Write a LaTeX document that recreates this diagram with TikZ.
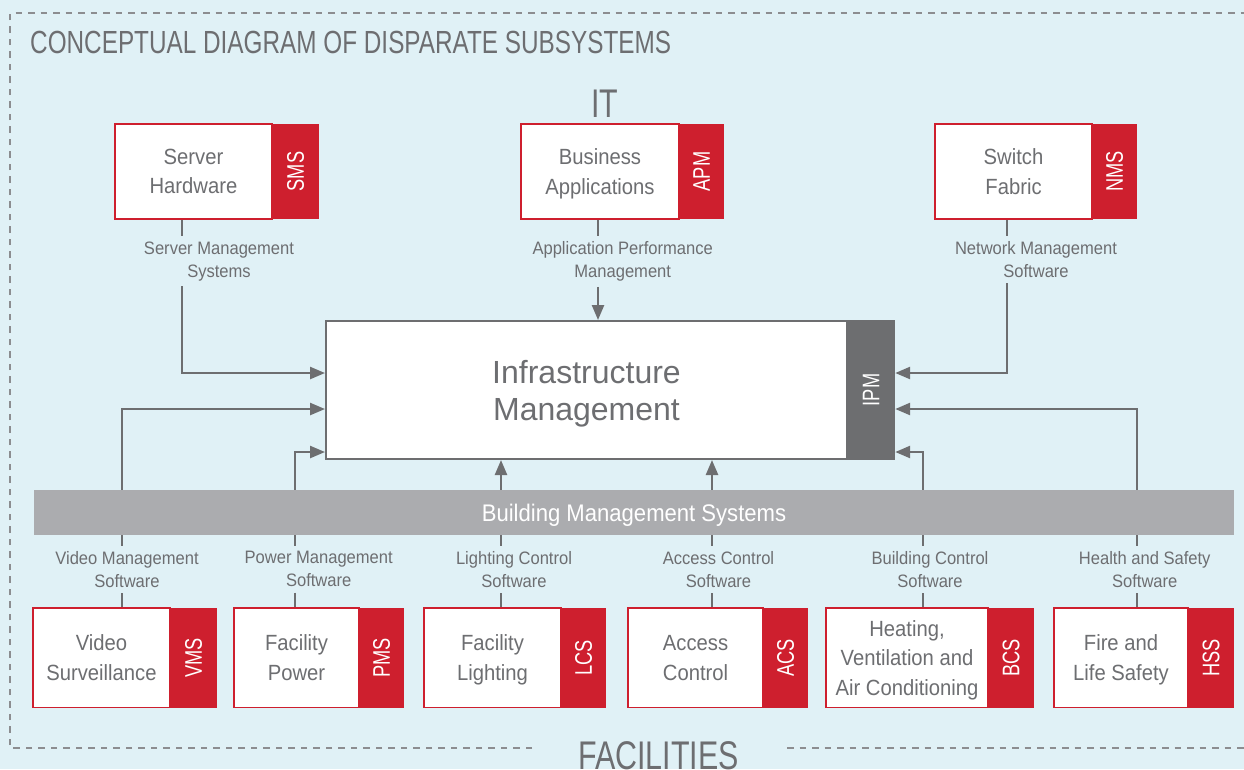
\documentclass[tikz,border=0pt]{standalone}
\usepackage{fontspec}
\usepackage{graphicx}
\setmainfont[FakeStretch=0.92]{Liberation Sans}
\newfontfamily\capfont[FakeStretch=0.76]{Liberation Sans}
\newfontfamily\widefont{Liberation Sans}
\usetikzlibrary{arrows.meta}
\definecolor{bg}{HTML}{E0F1F6}
\definecolor{myred}{HTML}{CE1F2E}
\definecolor{txt}{HTML}{6D6E71}
\definecolor{barc}{HTML}{ABACAF}
\definecolor{ipmc}{HTML}{6D6E70}
\definecolor{dashc}{HTML}{8C8D90}
\begin{document}
\begin{tikzpicture}[x=1pt,y=-1pt,
 wbox/.style={draw=myred, line width=1.8pt, fill=white, inner sep=0pt, align=center, text=txt, font=\fontsize{22}{29.5}\selectfont, text depth=0pt},
 tab/.style={fill=myred, inner sep=0pt, text=white, font=\capfont\fontsize{24}{24}\selectfont},
 lab/.style={inner sep=0pt, outer sep=5.5pt, align=center, text=txt, font=\fontsize{18}{23}\selectfont, anchor=north},
 conn/.style={draw=ipmc, line width=2.4pt},
 arr/.style={conn, -{Triangle[length=15pt,width=12pt]}},
 border/.style={draw=dashc, line width=1.3pt, dash pattern=on 6.5pt off 6pt},
 head/.style={inner sep=0pt, text=txt, font=\capfont\fontsize{40}{40}\selectfont, anchor=base}]

\useasboundingbox (0,0) rectangle (1244,769);
\fill[bg] (0,0) rectangle (1244,769);

% border
\draw[border] (532,748) -- (10,748) -- (10,13) -- (1244,13);
\draw[border] (787,748) -- (1244,748);

% headings
\node[inner sep=0pt, text=txt, font=\capfont\fontsize{32}{32}\selectfont, anchor=base west] (title) at (30,53) {CONCEPTUAL DIAGRAM OF DISPARATE SUBSYSTEMS};
\node[head] (it) at (605,117) {IT};
\node[head] (fac) at (658.5,769) {FACILITIES};

% x / y guides
\coordinate (xs) at (182,0);
\coordinate (xa) at (598,0);
\coordinate (xn) at (1007,0);
\coordinate (xv) at (122,0);
\coordinate (xp) at (295,0);
\coordinate (xl) at (501,0);
\coordinate (xc) at (712,0);
\coordinate (xb) at (923,0);
\coordinate (xh) at (1137,0);
\coordinate (yA) at (0,373);
\coordinate (yB) at (0,409);
\coordinate (yC) at (0,452);

% top boxes
\node[wbox, minimum width=157pt, minimum height=95pt] (srv) at (193.5,171.5) {Server\\Hardware};
\node[tab, minimum width=47pt, minimum height=95pt] (srvT) at (295.5,171.5) {\rotatebox{90}{SMS}};
\node[wbox, minimum width=158pt, minimum height=95pt] (app) at (600,171.5) {Business\\Applications};
\node[tab, minimum width=45pt, minimum height=95pt] (appT) at (701.5,171.5) {\rotatebox{90}{APM}};
\node[wbox, minimum width=157pt, minimum height=95pt] (swf) at (1013.5,171.5) {Switch\\Fabric};
\node[tab, minimum width=45pt, minimum height=95pt] (swfT) at (1114.5,171.5) {\rotatebox{90}{NMS}};

% top labels
\node[lab] (srvlab) at (219,236) {Server Management\\Systems};
\node[lab] (applab) at (622.7,236) {Application Performance\\Management};
\node[lab] (swflab) at (1036,236) {Network Management\\Software};

% central box
\node[wbox, draw=ipmc, line width=2pt, minimum width=521pt, minimum height=138pt, font=\widefont\fontsize{32}{37}\selectfont] (im) at (586.5,390) {Infrastructure\\Management};
\node[fill=ipmc, inner sep=0pt, minimum width=48pt, minimum height=140pt, text=white, font=\capfont\fontsize{24}{24}\selectfont] (ipm) at (871,390) {\rotatebox{90}{IPM}};

% bar
\node[fill=barc, inner sep=0pt, minimum width=1200pt, minimum height=45pt, text=white, font=\fontsize{24}{24}\selectfont, text depth=0pt] (bar) at (634,512.5) {Building Management Systems};

% bottom boxes
\node[wbox, minimum width=137pt, minimum height=99.5pt] (vms) at (101.5,657.75) {Video\\Surveillance};
\node[tab, minimum width=47pt, minimum height=99.5pt] (vmsT) at (193.5,657.75) {\rotatebox{90}{VMS}};
\node[wbox, minimum width=125pt, minimum height=99.5pt] (pms) at (296.5,657.75) {Facility\\Power};
\node[tab, minimum width=45pt, minimum height=99.5pt] (pmsT) at (381.5,657.75) {\rotatebox{90}{PMS}};
\node[wbox, minimum width=137pt, minimum height=99.5pt] (lcs) at (492.5,657.75) {Facility\\Lighting};
\node[tab, minimum width=45pt, minimum height=99.5pt] (lcsT) at (583.5,657.75) {\rotatebox{90}{LCS}};
\node[wbox, minimum width=135pt, minimum height=99.5pt] (acs) at (695.5,657.75) {Access\\Control};
\node[tab, minimum width=45pt, minimum height=99.5pt] (acsT) at (785.5,657.75) {\rotatebox{90}{ACS}};
\node[wbox, minimum width=162pt, minimum height=99.5pt] (bcs) at (907,657.75) {Heating,\\Ventilation and\\Air Conditioning};
\node[tab, minimum width=46pt, minimum height=99.5pt] (bcsT) at (1011,657.75) {\rotatebox{90}{BCS}};
\node[wbox, minimum width=134pt, minimum height=99.5pt] (hss) at (1121,657.75) {Fire and\\Life Safety};
\node[tab, minimum width=46pt, minimum height=99.5pt] (hssT) at (1211,657.75) {\rotatebox{90}{HSS}};

% bottom labels
\node[lab] (vmslab) at (127,546) {Video Management\\Software};
\node[lab] (pmslab) at (318.7,546) {Power Management\\Software};
\node[lab] (lcslab) at (514,546) {Lighting Control\\Software};
\node[lab] (acslab) at (718.5,546) {Access Control\\Software};
\node[lab] (bcslab) at (930,546) {Building Control\\Software};
\node[lab] (hsslab) at (1144.7,546) {Health and Safety\\Software};

% top connectors
\draw[conn] (srv.south -| xs) -- (srvlab.north -| xs);
\draw[arr] (srvlab.south -| xs) |- (im.west |- yA);
\draw[conn] (app.south -| xa) -- (applab.north -| xa);
\draw[arr] (applab.south -| xa) -- (im.north -| xa);
\draw[conn] (swf.south -| xn) -- (swflab.north -| xn);
\draw[arr] (swflab.south -| xn) |- (ipm.east |- yA);

% bar to central box
\draw[arr] (bar.north -| xv) |- (im.west |- yB);
\draw[arr] (bar.north -| xp) |- (im.west |- yC);
\draw[arr] (bar.north -| xl) -- (im.south -| xl);
\draw[arr] (bar.north -| xc) -- (im.south -| xc);
\draw[arr] (bar.north -| xb) |- (ipm.east |- yC);
\draw[arr] (bar.north -| xh) |- (ipm.east |- yB);

% bottom connectors
\draw[conn] (bar.south -| xv) -- (vmslab.north -| xv);
\draw[conn] (vmslab.south -| xv) -- (vms.north -| xv);
\draw[conn] (bar.south -| xp) -- (pmslab.north -| xp);
\draw[conn] (pmslab.south -| xp) -- (pms.north -| xp);
\draw[conn] (bar.south -| xl) -- (lcslab.north -| xl);
\draw[conn] (lcslab.south -| xl) -- (lcs.north -| xl);
\draw[conn] (bar.south -| xc) -- (acslab.north -| xc);
\draw[conn] (acslab.south -| xc) -- (acs.north -| xc);
\draw[conn] (bar.south -| xb) -- (bcslab.north -| xb);
\draw[conn] (bcslab.south -| xb) -- (bcs.north -| xb);
\draw[conn] (bar.south -| xh) -- (hsslab.north -| xh);
\draw[conn] (hsslab.south -| xh) -- (hss.north -| xh);
\end{tikzpicture}
\end{document}
